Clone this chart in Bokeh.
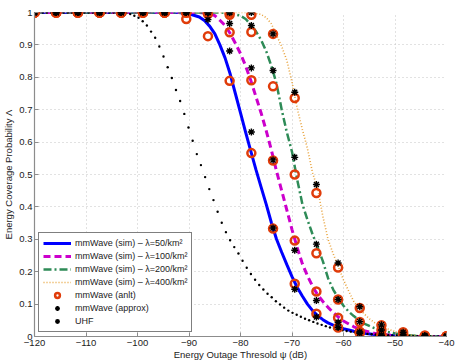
from bokeh.plotting import figure
from bokeh.models import Range1d, FixedTicker, Legend, LegendItem
from bokeh.embed import file_html
from bokeh.resources import INLINE

# ---------------- data ----------------
x_ticks = [-120, -110, -100, -90, -80, -70, -60, -50, -40]
y_ticks = [0, 0.1, 0.2, 0.3, 0.4, 0.5, 0.6, 0.7, 0.8, 0.9, 1]

# simulated curves
sim50_x = [-120, -92, -90, -88, -87, -86, -85, -84, -83, -82, -81, -80, -79, -78, -77, -76, -75, -74,
           -73, -72, -71, -70, -69, -68, -67, -66, -65, -64, -63, -62, -61, -60, -58, -56, -54, -52,
           -50, -48, -45, -40]
sim50_y = [1.0, 1.0, 0.996, 0.986, 0.975, 0.958, 0.935, 0.90, 0.86, 0.81, 0.75, 0.69, 0.63, 0.572,
           0.515, 0.461, 0.408, 0.351, 0.30, 0.26, 0.222, 0.185, 0.152, 0.125, 0.100, 0.080, 0.064,
           0.052, 0.042, 0.035, 0.029, 0.024, 0.016, 0.010, 0.006, 0.004, 0.002, 0.001, 0.0, 0.0]

sim100_x = [-120, -88, -86, -85, -84, -83, -82, -81, -80, -79, -78, -77, -76, -75, -74, -73, -72,
            -71, -70, -69, -68, -67, -66, -65, -64, -63, -62, -61, -60, -58, -56, -54, -52, -50,
            -48, -45, -40]
sim100_y = [1.0, 1.0, 0.997, 0.99, 0.976, 0.96, 0.935, 0.905, 0.873, 0.835, 0.79, 0.74, 0.69, 0.635,
            0.575, 0.51, 0.45, 0.39, 0.33, 0.275, 0.225, 0.187, 0.155, 0.128, 0.108, 0.09, 0.074,
            0.06, 0.048, 0.03, 0.018, 0.01, 0.006, 0.003, 0.001, 0.0, 0.0]

sim200_x = [-120, -84, -82, -80, -79, -78, -77, -76, -75, -74, -73, -72, -71, -70, -69, -68, -67,
            -66, -65, -64, -63, -62, -61, -60, -59, -58, -57, -56, -54, -52, -50, -48, -46, -44, -40]
sim200_y = [1.0, 1.0, 0.998, 0.99, 0.98, 0.962, 0.942, 0.915, 0.88, 0.835, 0.78, 0.70, 0.63, 0.57,
            0.485, 0.41, 0.36, 0.315, 0.275, 0.232, 0.18, 0.145, 0.118, 0.095, 0.077, 0.063, 0.05,
            0.04, 0.026, 0.016, 0.009, 0.005, 0.002, 0.001, 0.0]

sim400_x = [-120, -78, -76, -75, -74, -73, -72, -71, -70, -69, -68, -67, -66, -65, -64, -63, -62,
            -61, -60, -59, -58, -57, -56, -55, -54, -53, -52, -50, -48, -46, -44, -40]
sim400_y = [1.0, 1.0, 0.994, 0.984, 0.965, 0.93, 0.895, 0.852, 0.785, 0.705, 0.64, 0.58, 0.505,
            0.455, 0.37, 0.30, 0.255, 0.215, 0.175, 0.14, 0.108, 0.088, 0.07, 0.055, 0.043, 0.034,
            0.027, 0.015, 0.007, 0.003, 0.001, 0.0]

# analytical / approximation markers
mark_x = [-120.0, -115.79, -111.58, -107.37, -103.16, -98.95, -94.74, -90.53, -86.32, -82.11,
          -77.89, -73.68, -69.47, -65.26, -61.05, -56.84, -52.63, -48.42, -44.21, -40.0]
anlt50 = [1, 1, 1, 1, 1, 1, 1, 0.98, 0.927, 0.789, 0.566, 0.333, 0.163, 0.070, 0.028, 0.010,
          0.003, 0.001, 0, 0]
anlt100 = [1, 1, 1, 1, 1, 1, 1, 1, 0.995, 0.939, 0.791, 0.543, 0.296, 0.139, 0.058, 0.015,
           0.005, 0.001, 0, 0]
anlt200 = [1, 1, 1, 1, 1, 1, 1, 1, 1, 0.993, 0.94, 0.772, 0.50, 0.257, 0.114, 0.045, 0.020,
           0.006, 0.001, 0]
anlt400 = [1, 1, 1, 1, 1, 1, 1, 1, 1, 1, 0.993, 0.934, 0.736, 0.443, 0.213, 0.088, 0.035,
           0.013, 0.003, 0.001]
apx50 = [1, 1, 1, 1, 1, 1, 1, 1, 0.978, 0.881, 0.631, 0.335, 0.146, 0.060, 0.028, 0.010,
         0.003, 0.001, 0, 0]
apx100 = [1, 1, 1, 1, 1, 1, 1, 1, 1, 0.966, 0.829, 0.545, 0.266, 0.111, 0.044, 0.014, 0.004,
          0.001, 0, 0]
apx200 = [1, 1, 1, 1, 1, 1, 1, 1, 1, 1, 0.96, 0.821, 0.553, 0.285, 0.114, 0.046, 0.020, 0.006,
          0.001, 0]
apx400 = [1, 1, 1, 1, 1, 1, 1, 1, 1, 1, 1, 0.934, 0.754, 0.469, 0.227, 0.092, 0.036, 0.013,
          0.003, 0.001]

# UHF curve (dotted markers)
uhf_x = [-120.00, -119.19, -118.38, -117.58, -116.77, -115.96, -115.15, -114.34, -113.54, -112.73,
         -111.92, -111.11, -110.30, -109.49, -108.69, -107.88, -107.07, -106.26, -105.45, -104.65,
         -103.84, -103.03, -102.22, -101.41, -100.61, -99.80, -98.99, -98.18, -97.37, -96.57,
         -95.76, -94.95, -94.14, -93.33, -92.53, -91.72, -90.91, -90.10, -89.29, -88.48,
         -87.68, -86.87, -86.06, -85.25, -84.44, -83.64, -82.83, -82.02, -81.21, -80.40,
         -79.60, -78.79, -77.98, -77.17, -76.36, -75.56, -74.75, -73.94, -73.13, -72.32,
         -71.52, -70.71, -69.90, -69.09, -68.28, -67.47, -66.67, -65.86, -65.05, -64.24,
         -63.43, -62.63, -61.82, -61.01, -60.20, -59.39, -58.59, -57.78, -56.97, -56.16,
         -55.35, -54.55, -53.74, -52.93, -52.12, -51.31, -50.51, -49.70, -48.89, -48.08,
         -47.27, -46.46, -45.66, -44.85, -44.04, -43.23, -42.42, -41.62, -40.81, -40.00]
uhf_y = [1.0, 1.0, 1.0, 1.0, 1.0, 1.0, 1.0, 1.0, 1.0, 1.0,
         1.0, 1.0, 1.0, 1.0, 1.0, 1.0, 1.0, 1.0, 1.0, 1.0,
         1.0, 1.0, 0.998, 0.995, 0.99, 0.984, 0.973, 0.96, 0.941, 0.922,
         0.895, 0.864, 0.831, 0.798, 0.761, 0.727, 0.687, 0.645, 0.604, 0.563,
         0.529, 0.492, 0.455, 0.421, 0.385, 0.351, 0.322, 0.297, 0.276, 0.256,
         0.234, 0.212, 0.193, 0.175, 0.159, 0.145, 0.132, 0.121, 0.109, 0.099,
         0.089, 0.080, 0.073, 0.067, 0.061, 0.055, 0.050, 0.045, 0.040, 0.036,
         0.032, 0.028, 0.025, 0.022, 0.019, 0.017, 0.015, 0.013, 0.011, 0.010,
         0.008, 0.007, 0.006, 0.005, 0.004, 0.004, 0.003, 0.003, 0.002, 0.002,
         0.002, 0.001, 0.001, 0.001, 0.001, 0.001, 0.0, 0.0, 0.0, 0.0]

labels = ["mmWave (sim) \u2013 \u03bb=50/km\u00b2", "mmWave (sim) \u2013 \u03bb=100/km\u00b2",
          "mmWave (sim) \u2013 \u03bb=200/km\u00b2", "mmWave (sim) \u2013 \u03bb=400/km\u00b2",
          "mmWave (anlt)", "mmWave (approx)", "UHF"]

# ---------------- figure ----------------
FONT = "Liberation Sans"
p = figure(width=457, height=364, output_backend="svg", toolbar_location=None,
           x_range=Range1d(-120, -40), y_range=Range1d(0, 1),
           min_border_left=34, min_border_right=11, min_border_top=12, min_border_bottom=28)
p.outline_line_color = None
p.background_fill_color = "white"

for ax in (p.xaxis[0], p.yaxis[0]):
    ax.axis_line_color = "#8c8c8c"
    ax.axis_line_width = 1.2
    ax.major_tick_line_color = "#8c8c8c"
    ax.major_tick_in = 4
    ax.major_tick_out = 0
    ax.minor_tick_line_color = None
    ax.major_label_text_font = FONT
    ax.major_label_text_font_size = "9.5px"
    ax.major_label_text_color = "#222222"
    ax.axis_label_text_font = FONT
    ax.axis_label_text_font_size = "9.5px"
    ax.axis_label_text_font_style = "normal"
    ax.axis_label_text_color = "#222222"
    ax.major_label_standoff = 2

p.xaxis[0].ticker = FixedTicker(ticks=x_ticks)
p.xaxis[0].major_label_overrides = {t: "\u2212" + str(abs(t)) for t in x_ticks}
p.xaxis[0].axis_label = "Energy Outage Thresold \u03c8 (dB)"
p.xaxis[0].axis_label_standoff = 0
p.xaxis[0].major_label_standoff = 3
p.yaxis[0].ticker = FixedTicker(ticks=y_ticks)
p.yaxis[0].major_label_overrides = {0: "0", 1: "1"}
p.yaxis[0].axis_label = "Energy Coverage Probability \u039b"
p.yaxis[0].axis_label_standoff = 2

for g in (p.xgrid[0], p.ygrid[0]):
    g.grid_line_color = "#c4c4c4"
    g.grid_line_dash = "1 3"
    g.grid_line_width = 1

r50 = p.line(sim50_x, sim50_y, line_color="#0000ff", line_width=3)
r100 = p.line(sim100_x, sim100_y, line_color="#cc00cc", line_width=3, line_dash="7 4")
r200 = p.line(sim200_x, sim200_y, line_color="#2e8b57", line_width=2.5, line_dash="8 3 2 3")
r400 = p.line(sim400_x, sim400_y, line_color="#e8a33d", line_width=1.6, line_dash="1 2")
ruhf = p.scatter(uhf_x, uhf_y, marker="circle", size=2.4, fill_color="black", line_color=None)

all_x = mark_x * 4
ranlt = p.scatter(all_x, anlt50 + anlt100 + anlt200 + anlt400, marker="circle", size=8,
                  fill_color=None, line_color="#e03c0a", line_width=2.5)
rapx = p.scatter(all_x, apx50 + apx100 + apx200 + apx400, marker="asterisk", size=7,
                 line_color="black", line_width=1.4)

legend = Legend(items=[LegendItem(label=labels[0], renderers=[r50]),
                       LegendItem(label=labels[1], renderers=[r100]),
                       LegendItem(label=labels[2], renderers=[r200]),
                       LegendItem(label=labels[3], renderers=[r400]),
                       LegendItem(label=labels[4], renderers=[ranlt]),
                       LegendItem(label=labels[5], renderers=[rapx]),
                       LegendItem(label=labels[6], renderers=[ruhf])],
                location="bottom_left")
legend.margin = 4
legend.padding = 4
legend.spacing = 1
legend.label_height = 12
legend.glyph_height = 12
legend.glyph_width = 28
legend.label_standoff = 4
legend.label_text_font = FONT
legend.label_text_font_size = "9px"
legend.label_text_color = "#222222"
legend.border_line_color = "black"
legend.border_line_width = 1
legend.background_fill_alpha = 1.0
p.add_layout(legend)

open("out.html", "w").write(file_html(p, INLINE))
